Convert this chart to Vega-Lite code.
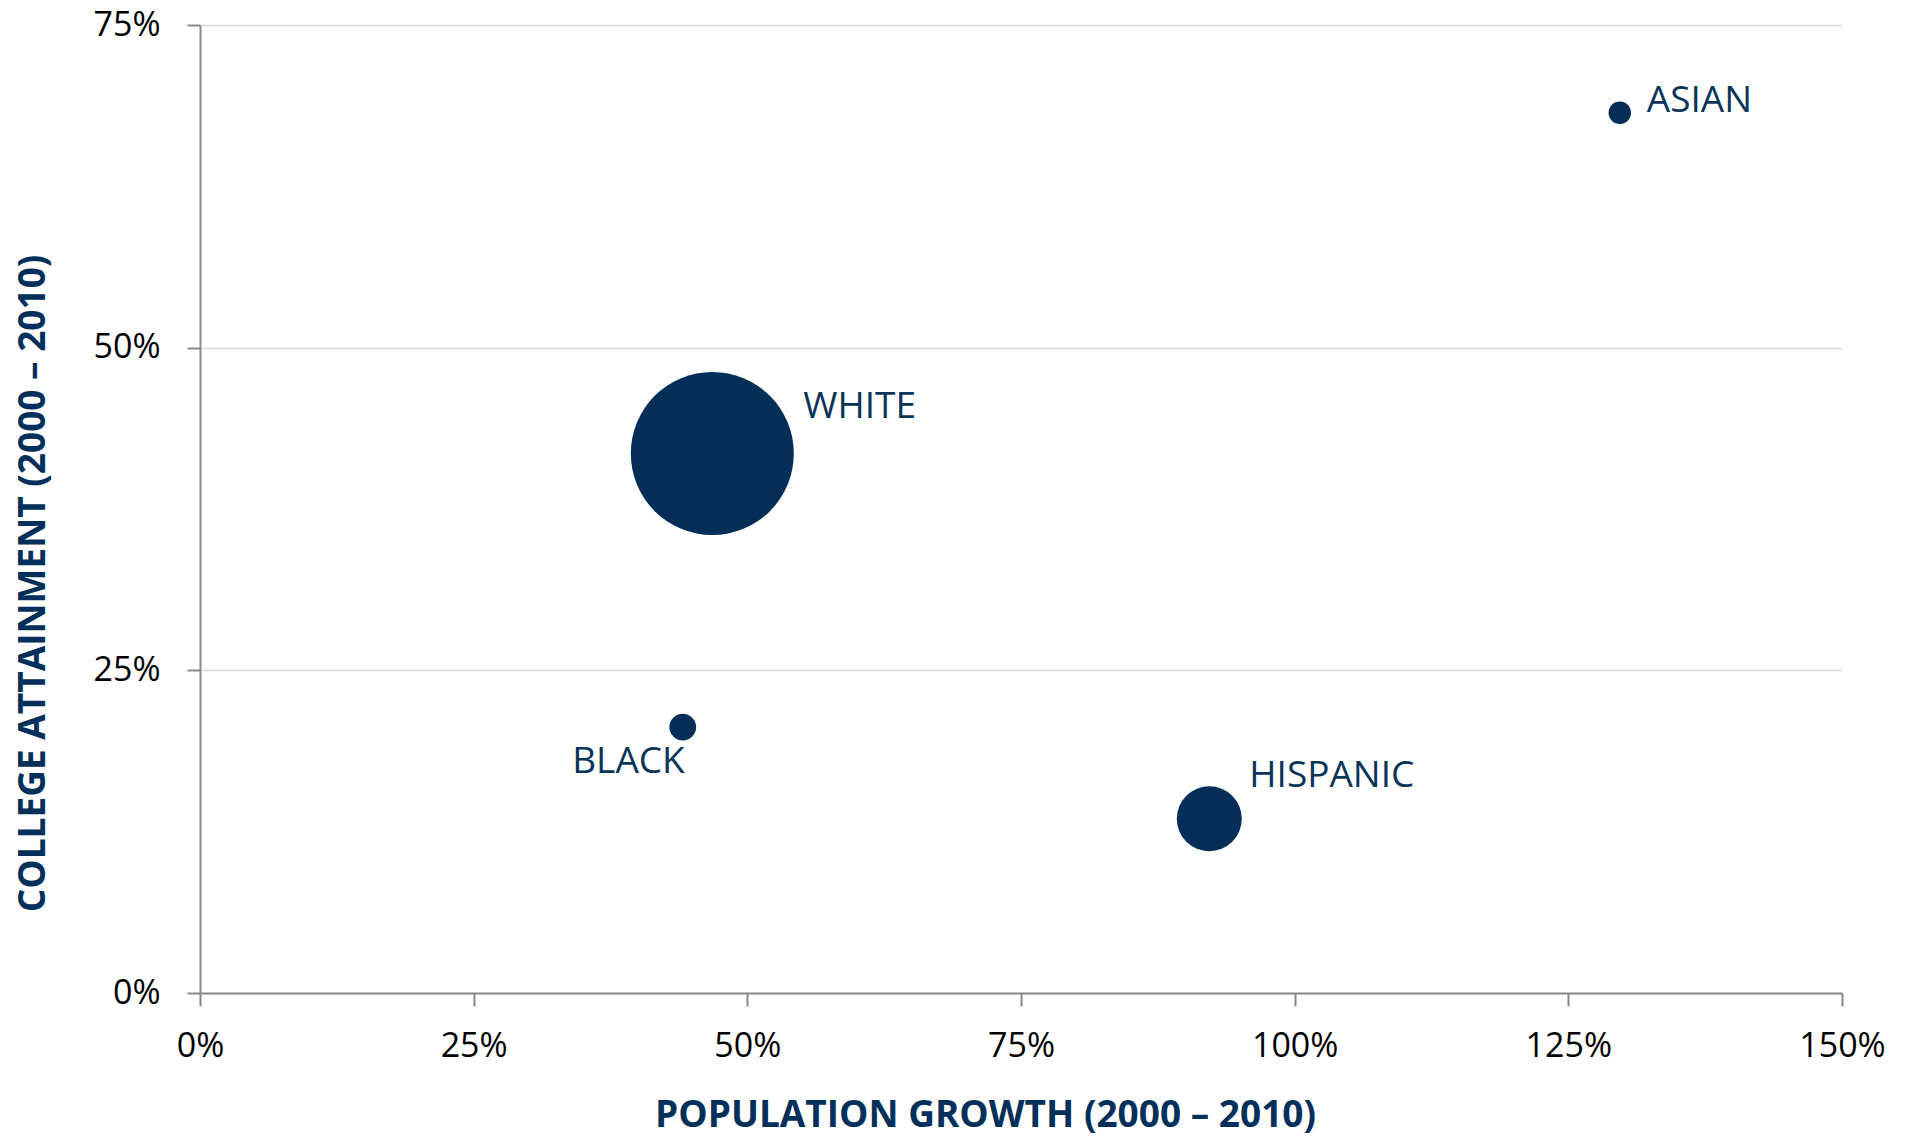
{
  "$schema": "https://vega.github.io/schema/vega-lite/v6.json",
  "width": 1642,
  "height": 968,
  "autosize": {"type": "none"},
  "padding": {"left": 200, "top": 25, "right": 69, "bottom": 143},
  "background": "white",
  "config": {
    "view": {"stroke": null},
    "font": "Open Sans"
  },
  "data": {
    "values": [
      {"group": "WHITE", "growth": 0.468, "attainment": 0.418, "population": 1000},
      {"group": "ASIAN", "growth": 1.297, "attainment": 0.682, "population": 19},
      {"group": "HISPANIC", "growth": 0.922, "attainment": 0.135, "population": 159},
      {"group": "BLACK", "growth": 0.441, "attainment": 0.206, "population": 27}
    ]
  },
  "encoding": {
    "x": {
      "field": "growth",
      "type": "quantitative",
      "scale": {"domain": [0, 1.5], "nice": false, "zero": true},
      "axis": {
        "title": "POPULATION GROWTH (2000 – 2010)",
        "format": ".0%",
        "values": [0, 0.25, 0.5, 0.75, 1, 1.25, 1.5],
        "grid": false,
        "domainColor": "#898989",
        "domainWidth": 2,
        "tickColor": "#898989",
        "tickWidth": 2,
        "tickSize": 13,
        "labelFont": "Open Sans",
        "labelFontSize": 34,
        "labelColor": "#000000",
        "labelPadding": 23,
        "labelFlush": false,
        "titleFont": "Open Sans",
        "titleFontSize": 37,
        "titleFontWeight": "bold",
        "titleColor": "#03305a",
        "titleX": 785,
        "titleY": 122,
        "titleBaseline": "middle",
        "titleAnchor": "middle"
      }
    },
    "y": {
      "field": "attainment",
      "type": "quantitative",
      "scale": {"domain": [0, 0.75], "nice": false, "zero": true},
      "axis": {
        "title": "COLLEGE ATTAINMENT (2000 – 2010)",
        "format": ".0%",
        "values": [0, 0.25, 0.5, 0.75],
        "grid": true,
        "gridColor": "#d9d9d9",
        "gridWidth": 1.5,
        "domainColor": "#898989",
        "domainWidth": 2,
        "tickColor": "#898989",
        "tickWidth": 2,
        "tickSize": 13,
        "labelFont": "Open Sans",
        "labelFontSize": 34,
        "labelColor": "#000000",
        "labelPadding": 27,
        "labelFlush": false,
        "titleFont": "Open Sans",
        "titleFontSize": 37,
        "titleFontWeight": "bold",
        "titleColor": "#03305a",
        "titleX": -167,
        "titleY": 558,
        "titleBaseline": "middle",
        "titleAnchor": "middle",
        "titleAngle": -90
      }
    }
  },
  "layer": [
    {
      "mark": {"type": "circle", "color": "#022e57", "opacity": 1},
      "encoding": {
        "size": {
          "field": "population",
          "type": "quantitative",
          "scale": {"domain": [0, 1000], "range": [0, 26569], "zero": true},
          "legend": null
        }
      }
    },
    {
      "transform": [{"filter": "datum.group === 'WHITE'"}],
      "mark": {"type": "text", "align": "left", "baseline": "alphabetic", "dx": 91, "dy": -36, "fontSize": 37, "font": "Open Sans", "color": "#0b3459"},
      "encoding": {"text": {"field": "group"}}
    },
    {
      "transform": [{"filter": "datum.group === 'ASIAN'"}],
      "mark": {"type": "text", "align": "left", "baseline": "alphabetic", "dx": 27, "dy": -1, "fontSize": 37, "font": "Open Sans", "color": "#0b3459"},
      "encoding": {"text": {"field": "group"}}
    },
    {
      "transform": [{"filter": "datum.group === 'HISPANIC'"}],
      "mark": {"type": "text", "align": "left", "baseline": "alphabetic", "dx": 40, "dy": -32, "fontSize": 37, "font": "Open Sans", "color": "#0b3459"},
      "encoding": {"text": {"field": "group"}}
    },
    {
      "transform": [{"filter": "datum.group === 'BLACK'"}],
      "mark": {"type": "text", "align": "right", "baseline": "alphabetic", "dx": 2, "dy": 46, "fontSize": 37, "font": "Open Sans", "color": "#0b3459"},
      "encoding": {"text": {"field": "group"}}
    }
  ]
}
